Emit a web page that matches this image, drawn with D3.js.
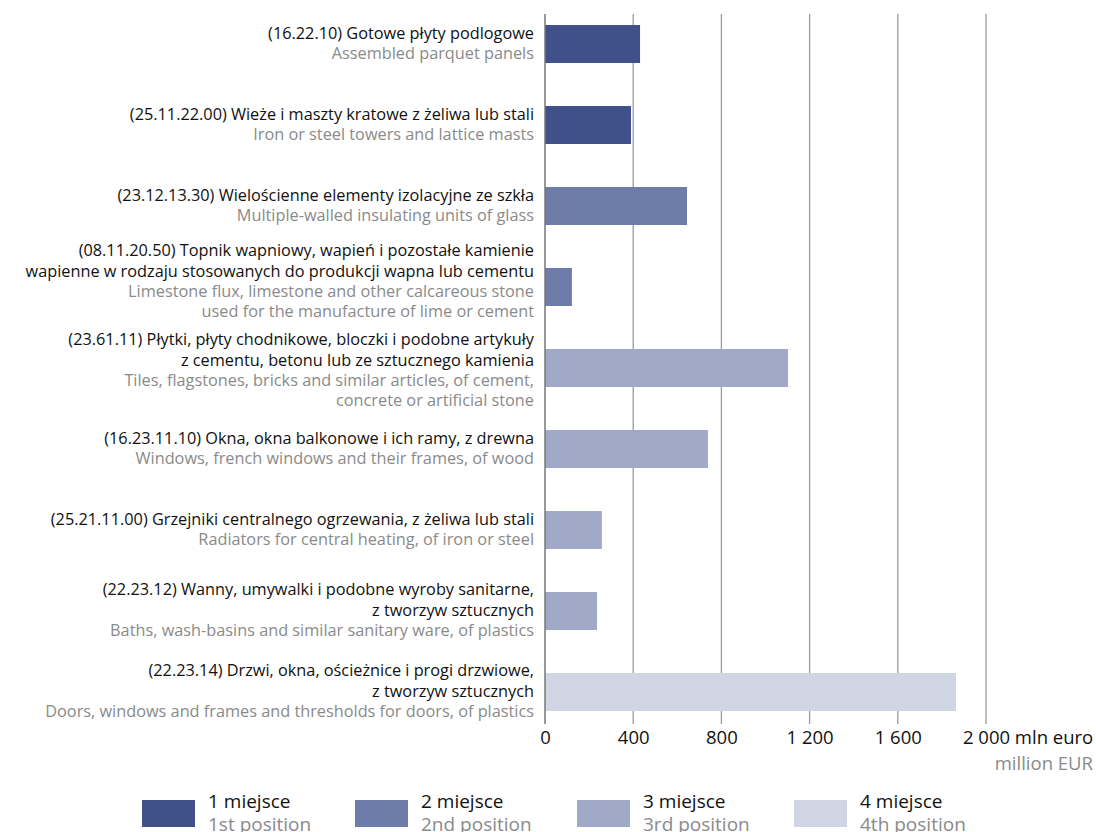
<!DOCTYPE html>
<html><head><meta charset="utf-8">
<script src="https://cdn.jsdelivr.net/npm/d3@7"></script>
<style>body{margin:0;background:#fff;}svg{display:block;font-family:"Open Sans",sans-serif;}</style>
</head><body><svg id="c" width="1096" height="832"></svg>
<script>
const categories = ["16.22.10","25.11.22.00","23.12.13.30","08.11.20.50","23.61.11","16.23.11.10","25.21.11.00","22.23.12","22.23.14"];
const labelsPL = [
 ["(16.22.10) Gotowe płyty podlogowe"],
 ["(25.11.22.00) Wieże i maszty kratowe z żeliwa lub stali"],
 ["(23.12.13.30) Wielościenne elementy izolacyjne ze szkła"],
 ["(08.11.20.50) Topnik wapniowy, wapień i pozostałe kamienie","wapienne w rodzaju stosowanych do produkcji wapna lub cementu"],
 ["(23.61.11) Płytki, płyty chodnikowe, bloczki i podobne artykuły","z cementu, betonu lub ze sztucznego kamienia"],
 ["(16.23.11.10) Okna, okna balkonowe i ich ramy, z drewna"],
 ["(25.21.11.00) Grzejniki centralnego ogrzewania, z żeliwa lub stali"],
 ["(22.23.12) Wanny, umywalki i podobne wyroby sanitarne,","z tworzyw sztucznych"],
 ["(22.23.14) Drzwi, okna, ościeżnice i progi drzwiowe,","z tworzyw sztucznych"]
];
const labelsEN = [
 ["Assembled parquet panels"],
 ["Iron or steel towers and lattice masts"],
 ["Multiple-walled insulating units of glass"],
 ["Limestone flux, limestone and other calcareous stone","used for the manufacture of lime or cement"],
 ["Tiles, flagstones, bricks and similar articles, of cement,","concrete or artificial stone"],
 ["Windows, french windows and their frames, of wood"],
 ["Radiators for central heating, of iron or steel"],
 ["Baths, wash-basins and similar sanitary ware, of plastics"],
 ["Doors, windows and frames and thresholds for doors, of plastics"]
];
const values = [431, 390, 644, 122, 1102, 739, 258, 236, 1864];
const positions = [1, 1, 2, 2, 3, 3, 3, 3, 4];
const xTicks = [0, 400, 800, 1200, 1600, 2000];
const xTickLabels = ["0","400","800","1 200","1 600","2 000"];
const xUnitPL = "mln euro";
const xUnitEN = "million EUR";
const legendPL = ["1 miejsce","2 miejsce","3 miejsce","4 miejsce"];
const legendEN = ["1st position","2nd position","3rd position","4th position"];
const colors = ["#405089","#6d7ca9","#a0a9c8","#cfd5e2"];

const svg = d3.select("#c");
const x = d3.scaleLinear().domain([0,2000]).range([545,986]);
const y = d3.scaleBand().domain(categories).range([3.5,732.5]).paddingInner(0.531).paddingOuter(0.2655);
const col = d3.scaleOrdinal().domain([1,2,3,4]).range(colors);

const gTop = 14, gBot = 720;
svg.append("g").selectAll("line").data(xTicks.slice(1)).join("line")
  .attr("x1", d=>x(d)).attr("x2", d=>x(d)).attr("y1", gTop).attr("y2", gBot+4)
  .attr("stroke","#9a9a9a").attr("stroke-width",1.3);

svg.append("g").selectAll("rect").data(categories).join("rect")
  .attr("x", x(0)).attr("y", d=>y(d)).attr("height", y.bandwidth())
  .attr("width", (d,i)=>x(values[i])-x(0)).attr("fill",(d,i)=>col(positions[i]));

svg.append("line").attr("x1",x(0)).attr("x2",x(0)).attr("y1",gTop).attr("y2",gBot+4)
  .attr("stroke","#777").attr("stroke-width",1.5);

const xa = svg.append("g").attr("transform",`translate(0,${gBot})`)
  .call(d3.axisBottom(x).tickValues(xTicks).tickSize(0).tickPadding(11)
     .tickFormat((d,i)=>xTickLabels[i]));
xa.select(".domain").remove();
xa.selectAll("text").attr("font-size",18.5).attr("fill","#111").attr("font-family","Open Sans, sans-serif");
// last tick label gets unit appended, anchored so the number stays centred on the tick
const lastT = xa.selectAll(".tick").filter(d=>d===2000).select("text");
const numW = lastT.node().getComputedTextLength();
lastT.attr("text-anchor","start").attr("x",-numW/2).text(xTickLabels[xTickLabels.length-1]+" "+xUnitPL);
svg.append("text").attr("x",1093).attr("y",gBot+50).attr("text-anchor","end").attr("font-size",18.5).attr("fill","#8a8a8a").text(xUnitEN);

const lh = 20.4;
const groupShift = [0,0,0,-5,3,0,0,0,0];
const lg = svg.append("g").attr("font-size",16.3).attr("text-anchor","end");
categories.forEach((c,i)=>{
  const lines = labelsPL[i].map(t=>({t,pl:true})).concat(labelsEN[i].map(t=>({t,pl:false})));
  const cy = y(c)+y.bandwidth()/2 + groupShift[i];
  const start = cy - (lines.length-1)*lh/2 - 1;
  lines.forEach((l,j)=>{
    lg.append("text").attr("x",534).attr("y",start+j*lh).attr("dy","0.35em")
      .attr("fill", l.pl ? "#111" : "#8a8a8a").text(l.t);
  });
});

const legX = [142,355,577,794];
const leg = svg.append("g");
legendPL.forEach((t,i)=>{
  leg.append("rect").attr("x",legX[i]).attr("y",800).attr("width",53).attr("height",27).attr("fill",colors[i]);
  leg.append("text").attr("x",legX[i]+66).attr("y",808).attr("font-size",19).attr("fill","#111").text(t);
  leg.append("text").attr("x",legX[i]+66).attr("y",831).attr("font-size",19).attr("fill","#8a8a8a").text(legendEN[i]);
});
</script></body></html>
